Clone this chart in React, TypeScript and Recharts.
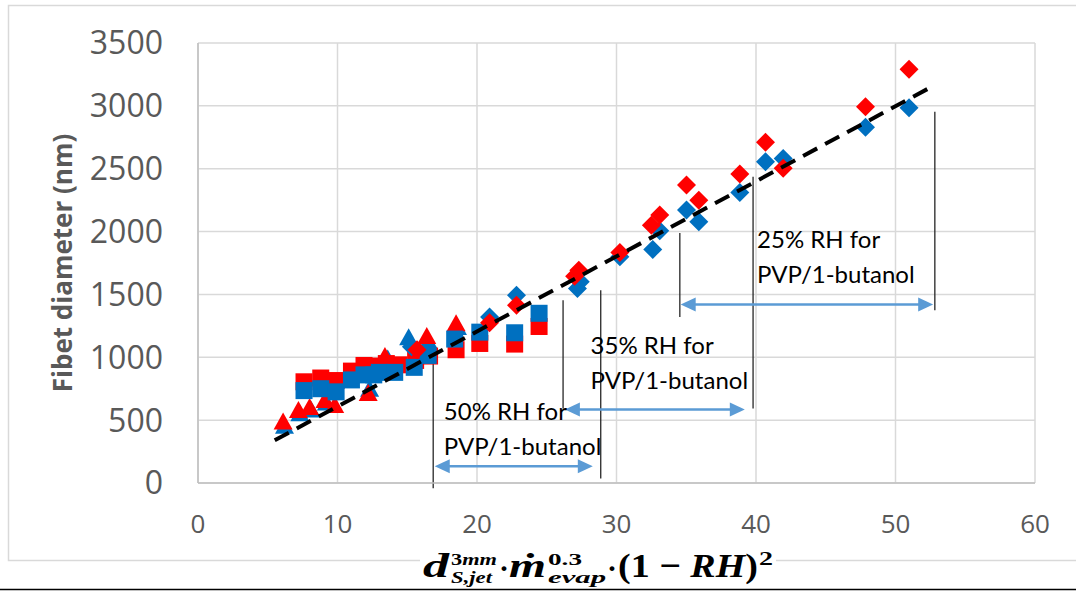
import React from 'react';
import {
  ScatterChart, Scatter, XAxis, YAxis, CartesianGrid, ReferenceLine, ReferenceDot,
} from 'recharts';

// ---- data (x = d·m^0.3·(1-RH)^2, y = fibre diameter nm) ----
const redTriangles: number[][] = [
  [6.1, 490], [7.2, 580], [8.0, 605], [9.1, 660], [9.8, 620], [12.2, 715], [13.4, 1010], [16.4, 1170], [18.5, 1270],
];
const blueTriangles: number[][] = [
  [6.2, 455], [7.3, 555], [8.1, 585], [9.2, 640], [12.3, 750], [13.6, 990], [15.1, 1160], [16.5, 1130], [18.6, 1240],
];
const redSquares: number[][] = [
  [7.6, 805], [8.8, 835], [9.9, 815], [11.0, 890], [11.9, 935], [12.6, 930], [13.5, 950], [14.4, 940],
  [15.6, 975], [16.6, 1010], [18.5, 1060], [20.2, 1110], [22.7, 1105], [24.45, 1245],
];
const blueSquares: number[][] = [
  [7.6, 735], [8.8, 750], [9.9, 725], [11.0, 820], [11.9, 860], [12.6, 860], [13.0, 880], [14.1, 880],
  [15.5, 920], [16.5, 1015], [18.4, 1145], [20.2, 1200], [22.7, 1195], [24.45, 1350],
];
const redDiamonds: number[][] = [
  [15.7, 1060], [20.9, 1275], [22.83, 1414], [27.0, 1645], [27.3, 1693], [30.24, 1834], [32.5, 2051], [33.1, 2131],
  [35.02, 2370], [35.9, 2250], [38.84, 2457], [40.68, 2710], [41.95, 2503], [47.85, 2993], [50.97, 3291],
];
const blueDiamonds: number[][] = [
  [15.3, 1083], [20.9, 1321], [22.83, 1494], [27.2, 1547], [27.4, 1600], [30.24, 1799], [32.6, 1858], [33.1, 2006],
  [35.02, 2171], [35.9, 2078], [38.84, 2311], [40.68, 2555], [41.95, 2582], [47.85, 2829], [50.97, 2985],
];
const trendLine: number[][] = [[5.5, 340], [52.46, 3144]];

const xTicks = [0, 10, 20, 30, 40, 50, 60];
const yTicks = [0, 500, 1000, 1500, 2000, 2500, 3000, 3500];

// annotation ranges: [xLeft, xRight, arrowY], vertical lines: [x, yTop, yBottom]
const rhArrows: number[][] = [[16.97, 28.3, 133], [26.3, 39.2, 584], [34.6, 52.7, 1420]];
const rhVLines: number[][] = [
  [16.86, 977, -42], [28.87, 1534, 35],
  [26.17, 1454, 592], [39.79, 2436, 592],
  [34.54, 1988, 1321], [52.82, 2953, 1375],
];
const rhLabels: { x: number; y: number; l1: string; l2: string }[] = [
  { x: 17.62, y: 499, l1: '50% RH for', l2: 'PVP/1-butanol' },
  { x: 28.14, y: 1030, l1: '35% RH for', l2: 'PVP/1-butanol' },
  { x: 40.08, y: 1866, l1: '25% RH for', l2: 'PVP/1-butanol' },
];

const toPts = (a: number[][]) => a.map(([x, y]) => ({ x, y }));

const RED = '#FF0000';
const BLUE = '#0070C0';
const ARROW = '#5B9BD5';
const TICK_FONT = "'Open Sans', sans-serif";

const Triangle = (color: string) => (p: any) => (
  <polygon points={`${p.cx},${p.cy - 9} ${p.cx + 9.5},${p.cy + 8} ${p.cx - 9.5},${p.cy + 8}`} fill={color} />
);
const Square = (color: string) => (p: any) => (
  <rect x={p.cx - 8.5} y={p.cy - 8.5} width={17} height={17} fill={color} />
);
const Diamond = (color: string) => (p: any) => (
  <polygon points={`${p.cx},${p.cy - 9.5} ${p.cx + 9.5},${p.cy} ${p.cx},${p.cy + 9.5} ${p.cx - 9.5},${p.cy}`} fill={color} />
);

const ArrowShape = (p: any) => {
  const { x1, y1, x2 } = p;
  const h = 15;
  const w = 7;
  return (
    <g>
      <line x1={x1 + h - 2} y1={y1} x2={x2 - h + 2} y2={y1} stroke={ARROW} strokeWidth={2.5} />
      <polygon points={`${x1},${y1} ${x1 + h},${y1 - w} ${x1 + h},${y1 + w}`} fill={ARROW} />
      <polygon points={`${x2},${y1} ${x2 - h},${y1 - w} ${x2 - h},${y1 + w}`} fill={ARROW} />
    </g>
  );
};

const LabelShape = (l1: string, l2: string) => (p: any) => (
  <text x={p.cx} y={p.cy} fontFamily="Lato, sans-serif" fontSize={24} fill="#000">
    <tspan x={p.cx} y={p.cy}>{l1}</tspan>
    <tspan x={p.cx} y={p.cy + 35}>{l2}</tspan>
  </text>
);

const YTitle = () => (
  <text
    x={62}
    y={263}
    transform="rotate(-90 62 263)"
    textAnchor="middle"
    dominantBaseline="central"
    fontFamily={TICK_FONT}
    fontWeight="bold"
    fontSize={26}
    fill="#595959"
  >
    Fibet diameter (nm)
  </text>
);

const SERIF = "'Liberation Serif', 'DejaVu Serif', serif";

const Formula = () => (
  <g fontFamily={SERIF} fontWeight="bold" fill="#000">
    <rect x={420} y={548} width={356} height={40} fill="#fff" />
    <text x={423} y={577} fontSize={34} fontStyle="italic" textLength={26} lengthAdjust="spacingAndGlyphs">d</text>
    <text x={451} y={565} fontSize={17} textLength={46} lengthAdjust="spacingAndGlyphs">
      3<tspan fontStyle="italic">mm</tspan>
    </text>
    <text x={451} y={583} fontSize={17} fontStyle="italic" textLength={41} lengthAdjust="spacingAndGlyphs">S,jet</text>
    <text x={499} y={578} fontSize={30}>·</text>
    <text x={509} y={577} fontSize={34} fontStyle="italic" textLength={37} lengthAdjust="spacingAndGlyphs">ṁ</text>
    <text x={548} y={565} fontSize={17} textLength={34} lengthAdjust="spacingAndGlyphs">0.3</text>
    <text x={548} y={583} fontSize={17} fontStyle="italic" textLength={58} lengthAdjust="spacingAndGlyphs">evap</text>
    <text x={607} y={578} fontSize={30}>·</text>
    <text x={618} y={577} fontSize={34} textLength={140} lengthAdjust="spacingAndGlyphs">
      (1 − <tspan fontStyle="italic">RH</tspan>)
    </text>
    <text x={759} y={565} fontSize={19} textLength={14} lengthAdjust="spacingAndGlyphs">2</text>
  </g>
);

export default function App() {
  return (
    <div style={{ position: 'absolute', left: 0, top: 0, width: 1076, height: 591, background: '#fff' }}>
      <ScatterChart width={1076} height={591} margin={{ top: 43, right: 41, bottom: 48, left: 0 }}>
        <CartesianGrid stroke="#D9D9D9" strokeWidth={1.5} />
        <XAxis
          type="number"
          dataKey="x"
          domain={[0, 60]}
          ticks={xTicks}
          height={60}
          tickSize={0}
          tickMargin={32}
          axisLine={{ stroke: '#BFBFBF', strokeWidth: 1.5 }}
          tickLine={false}
          tick={{ fontSize: 26, fill: '#595959', fontFamily: TICK_FONT }}
          allowDataOverflow
        />
        <YAxis
          type="number"
          dataKey="y"
          domain={[0, 3500]}
          ticks={yTicks}
          width={198}
          tickSize={0}
          tickMargin={35}
          axisLine={{ stroke: '#BFBFBF', strokeWidth: 1.5 }}
          tickLine={false}
          tick={{ fontSize: 32, fill: '#595959', fontFamily: TICK_FONT }}
          allowDataOverflow
        />
        <Scatter data={toPts(blueTriangles)} shape={Triangle(BLUE)} isAnimationActive={false} />
        <Scatter data={toPts(redTriangles)} shape={Triangle(RED)} isAnimationActive={false} />
        <Scatter data={toPts(redSquares)} shape={Square(RED)} isAnimationActive={false} />
        <Scatter data={toPts(blueSquares)} shape={Square(BLUE)} isAnimationActive={false} />
        <Scatter data={toPts(blueDiamonds)} shape={Diamond(BLUE)} isAnimationActive={false} />
        <Scatter data={toPts(redDiamonds)} shape={Diamond(RED)} isAnimationActive={false} />
        <Scatter
          data={toPts(trendLine)}
          line={{ stroke: '#000', strokeWidth: 4, strokeDasharray: '16 9' }}
          shape={() => <g />}
          isAnimationActive={false}
        />
        {rhVLines.map(([x, y1, y2], i) => (
          <ReferenceLine
            key={'v' + i}
            segment={[{ x, y: y1 }, { x, y: y2 }]}
            stroke="#262626"
            strokeWidth={1.3}
            ifOverflow="visible"
          />
        ))}
        {rhArrows.map(([xa, xb, y], i) => (
          <ReferenceLine
            key={'a' + i}
            segment={[{ x: xa, y }, { x: xb, y }]}
            shape={ArrowShape}
            ifOverflow="visible"
          />
        ))}
        {rhLabels.map((l, i) => (
          <ReferenceDot key={'t' + i} x={l.x} y={l.y} r={0} shape={LabelShape(l.l1, l.l2)} ifOverflow="visible" />
        ))}
      </ScatterChart>
      <svg width={1076} height={591} style={{ position: 'absolute', left: 0, top: 0, pointerEvents: 'none' }}>
        <rect x={8.5} y={5.5} width={1090} height={555} fill="none" stroke="#D9D9D9" strokeWidth={1.5} />
        <line x1={0} y1={589.5} x2={1076} y2={589.5} stroke="#000" strokeWidth={1.5} />
        <YTitle />
        <Formula />
      </svg>
    </div>
  );
}
